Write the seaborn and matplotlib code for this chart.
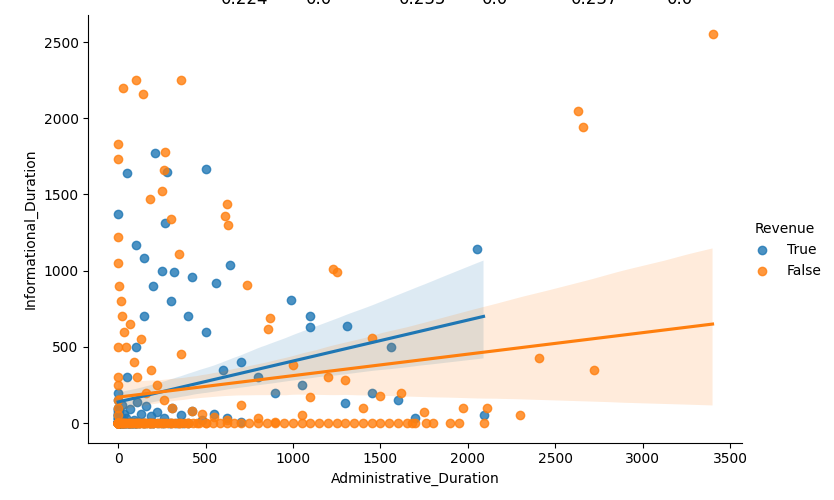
import matplotlib
matplotlib.use("Agg")
import matplotlib.pyplot as plt
import seaborn as sns
import pandas as pd

true_x = [2050,2090,1560,1310,1100,1100,990,640,500,210,280,50,0,270,320,420,560,100,150,250,
          1450,1700,1600,1300,1050,900,700,800,600,500,400,300,200,150,100,50,0,
          0,0,0,0,10,20,30,40,60,80,100,120,150,180,200,250,300,350,400,0,0,0,5,15,
          25,35,45,70,90,110,130,160,190,220,260,310,360,420,480,550,620,700,0,0,0,0,0,0,
          0,0,0,0,0,0,0,0,0,0,0,0,0,0,0,0,0,0,0,0,10,20,30,40,50,60,70,80,90,100,
          15,25,35,45,55,65,75,85,95,105,0,0,0,0,0,0,0,0,0,0,120,140,160,180,200,230,260,290,330,370]
true_y = [1145,50,500,635,700,630,810,1040,1665,1770,1650,1640,1370,1310,990,960,920,1170,1080,1000,
          200,30,150,130,250,200,400,300,350,600,700,800,900,700,500,300,200,
          0,0,0,0,0,0,0,0,0,0,0,0,0,0,0,0,0,0,0,50,100,150,80,40,
          120,60,30,90,20,140,60,110,45,70,30,100,50,80,20,60,30,10,0,0,0,0,0,0,
          0,0,0,0,0,0,0,0,0,0,0,0,0,0,0,0,0,0,0,0,0,0,0,0,0,0,0,0,0,0,
          0,0,0,0,0,0,0,0,0,0,30,60,90,15,45,75,25,55,85,35,0,0,0,0,0,0,0,0,0,0]
false_x = [3400,2630,2660,2720,2410,2110,2090,1970,1950,1750,1680,1620,1500,1450,1250,1230,620,610,630,360,
           100,140,30,0,0,270,260,250,180,300,350,740,860,870,1200,1000,1100,1300,1400,1800,2300,1050,
           0,0,0,0,0,10,20,30,40,60,80,100,120,150,180,200,250,300,350,400,450,500,0,0,5,15,25,
           35,45,70,90,110,130,160,190,220,260,310,360,420,480,550,620,700,800,900,0,0,0,0,0,0,0,
           0,0,0,0,0,0,0,0,0,0,0,0,0,0,0,0,0,0,0,0,0,0,0,0,0,0,0,0,0,0,
           0,0,0,0,0,0,0,0,0,0,0,0,0,0,0,0,0,0,0,0,0,0,0,0,0,0,0,0,0,0,
           10,20,30,40,50,60,70,80,90,100,110,120,130,140,150,160,170,180,190,200,
           220,240,260,280,300,320,340,360,380,400,430,460,500,540,580,620,660,700,750,800,
           850,900,950,1000,1050,1100,1150,1200,1250,1300,1350,1400,1450,1500,1550,1600,1650,1700,1760,1900]
false_y = [2550,2050,1940,350,430,100,0,100,0,70,0,200,180,560,990,1010,1440,1360,1300,2250,
           2250,2160,2200,1830,1730,1780,1660,1520,1470,1340,1110,905,620,690,300,380,170,280,100,0,50,50,
           0,0,0,0,0,0,0,0,0,0,0,0,0,0,0,0,0,0,0,0,0,0,1220,1050,900,800,700,
           600,500,650,400,300,550,200,350,250,150,100,450,80,60,40,20,120,30,10,0,300,500,150,250,100,50,
           0,0,0,0,0,0,0,0,0,0,0,0,0,0,0,0,0,0,0,0,0,0,0,0,0,0,0,0,0,0,
           0,0,0,0,0,0,0,0,0,0,0,0,0,0,0,0,0,0,0,0,0,0,0,0,0,0,0,0,0,0,
           0,0,0,0,0,0,0,0,0,0,0,0,0,0,0,0,0,0,0,0,
           0,0,0,0,0,0,0,0,0,0,0,0,0,0,0,0,0,0,0,0,
           0,0,0,0,0,0,0,0,0,0,0,0,0,0,0,0,0,0,0,0]

df = pd.DataFrame({
    "Administrative_Duration": true_x + false_x,
    "Informational_Duration": true_y + false_y,
    "Revenue": ["True"] * len(true_x) + ["False"] * len(false_x),
})

g = sns.lmplot(data=df, x="Administrative_Duration", y="Informational_Duration",
               hue="Revenue", hue_order=["True", "False"], height=5, aspect=1.5)
g.figure.set_size_inches(8.34, 5)
g.figure.subplots_adjust(left=0.106, right=0.89, bottom=0.115, top=0.97)
sns.move_legend(g, "center right", bbox_to_anchor=(1.0, 0.5), frameon=False)
labels = [("0.224", 0.265), ("0.0", 0.367), ("0.235", 0.478), ("0.0", 0.578), ("0.237", 0.685), ("0.0", 0.8)]
for t, xf in labels:
    g.figure.text(xf, 0.985, t, fontsize=12, va="bottom")
g.figure.savefig("out.png", dpi=100)
